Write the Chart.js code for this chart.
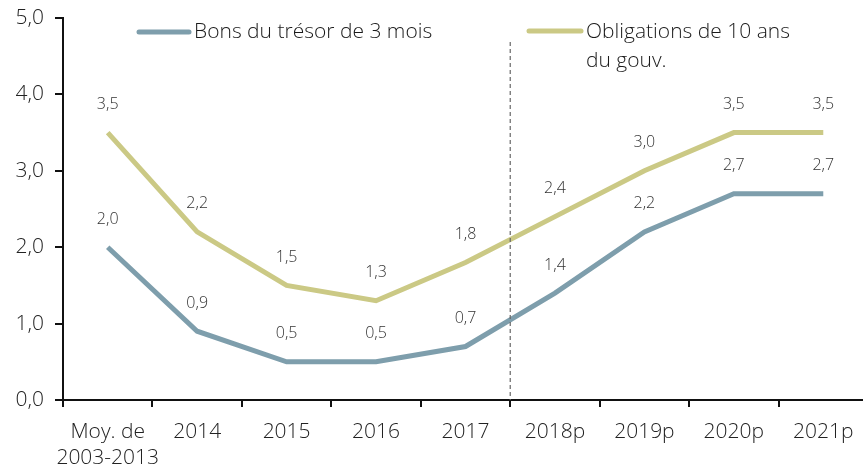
<!DOCTYPE html>
<html>
<head>
<meta charset="utf-8">
<script src="https://cdn.jsdelivr.net/npm/chart.js@4/dist/chart.umd.min.js"></script>
<style>
  html, body { margin: 0; padding: 0; background: #fff; overflow: hidden; }
  #wrap { width: 868px; height: 472px; }
</style>
</head>
<body>
<div id="wrap"><canvas id="myChart"></canvas></div>
<script>
var categories = [['Moy. de', '2003-2013'], '2014', '2015', '2016', '2017', '2018p', '2019p', '2020p', '2021p']
var bons = [2.0, 0.9, 0.5, 0.5, 0.7, 1.4, 2.2, 2.7, 2.7]
var obligations = [3.5, 2.2, 1.5, 1.3, 1.8, 2.4, 3.0, 3.5, 3.5]
var bons_label = 'Bons du trésor de 3 mois'
var obligations_label = ['Obligations de 10 ans', 'du gouv.']
var y_ticks = [0, 1, 2, 3, 4, 5]

var FONT = '"Open Sans", sans-serif'
var BLUE = '#7e9eac'
var YELLOW = '#cbc985'

function comma(v, d) {
  return v.toFixed(d).replace('.', ',')
}

// data labels above points + forecast divider + legend
var extras = {
  id: 'extras',
  afterDatasetsDraw: function(chart) {
    var ctx = chart.ctx
    var x = chart.scales.x
    var area = chart.chartArea
    ctx.save()
    // dashed divider between 2017 and 2018p
    var xd = (x.getPixelForValue(4) + x.getPixelForValue(5)) / 2
    ctx.strokeStyle = '#666'
    ctx.lineWidth = 1.2
    ctx.setLineDash([4, 3])
    ctx.beginPath()
    ctx.moveTo(xd, 42)
    ctx.lineTo(xd, area.bottom)
    ctx.stroke()
    ctx.setLineDash([])

    ctx.font = '300 16px ' + FONT
    ctx.fillStyle = '#333'
    ctx.textAlign = 'center'
    ctx.textBaseline = 'middle'
    chart.data.datasets.forEach(function(ds, i) {
      chart.getDatasetMeta(i).data.forEach(function(pt, j) {
        ctx.fillText(comma(ds.data[j], 1), pt.x, pt.y - 28)
      })
    })

    // legend
    ctx.lineCap = 'round'
    ctx.lineWidth = 5
    ctx.strokeStyle = BLUE
    ctx.beginPath(); ctx.moveTo(139, 32); ctx.lineTo(189, 32); ctx.stroke()
    ctx.strokeStyle = YELLOW
    ctx.beginPath(); ctx.moveTo(529, 31); ctx.lineTo(581, 31); ctx.stroke()
    ctx.font = '300 21px ' + FONT
    ctx.fillStyle = '#1a1a1a'
    ctx.textAlign = 'left'
    ctx.fillText(bons_label, 194, 32)
    ctx.fillText(obligations_label[0], 586, 32)
    ctx.fillText(obligations_label[1], 586, 61)
    ctx.restore()
  }
}

document.addEventListener('DOMContentLoaded', function() {
  var ctx = document.getElementById('myChart').getContext('2d')
  var myChart = new Chart(ctx, {
    type: 'line',
    data: {
      labels: categories,
      datasets: [
        {
          label: bons_label,
          data: bons,
          borderColor: BLUE,
          borderWidth: 5,
          pointRadius: 0,
          tension: 0
        },
        {
          label: obligations_label.join(' '),
          data: obligations,
          borderColor: YELLOW,
          borderWidth: 5,
          pointRadius: 0,
          tension: 0
        }
      ]
    },
    options: {
      responsive: true,
      maintainAspectRatio: false,
      animation: false,
      layout: { padding: { top: 0, right: 0, left: 0, bottom: 0 } },
      plugins: { legend: { display: false }, tooltip: { enabled: false } },
      scales: {
        x: {
          offset: true,
          grid: { offset: true, drawOnChartArea: false, drawTicks: true, tickLength: 7, color: '#111', lineWidth: 2 },
          border: { color: '#111', width: 2 },
          ticks: { color: '#222', font: { family: FONT, size: 21, weight: 300, lineHeight: 1.25 }, padding: 12, maxRotation: 0, autoSkip: false },
          afterFit: function(scale) { scale.height = 72 }
        },
        y: {
          min: 0,
          max: 5,
          afterBuildTicks: function(scale) { scale.ticks = y_ticks.map(function(v) { return { value: v } }) },
          afterFit: function(scale) { scale.width = 63; scale.paddingTop = 18 },
          grid: { drawOnChartArea: false, drawTicks: true, tickLength: 8, color: '#111', lineWidth: 2 },
          border: { color: '#111', width: 2 },
          ticks: {
            color: '#222',
            font: { family: FONT, size: 21, weight: 300 },
            padding: 11,
            callback: function(v) { return comma(v, 1) }
          }
        }
      }
    },
    plugins: [extras]
  })
})
</script>
</body>
</html>
